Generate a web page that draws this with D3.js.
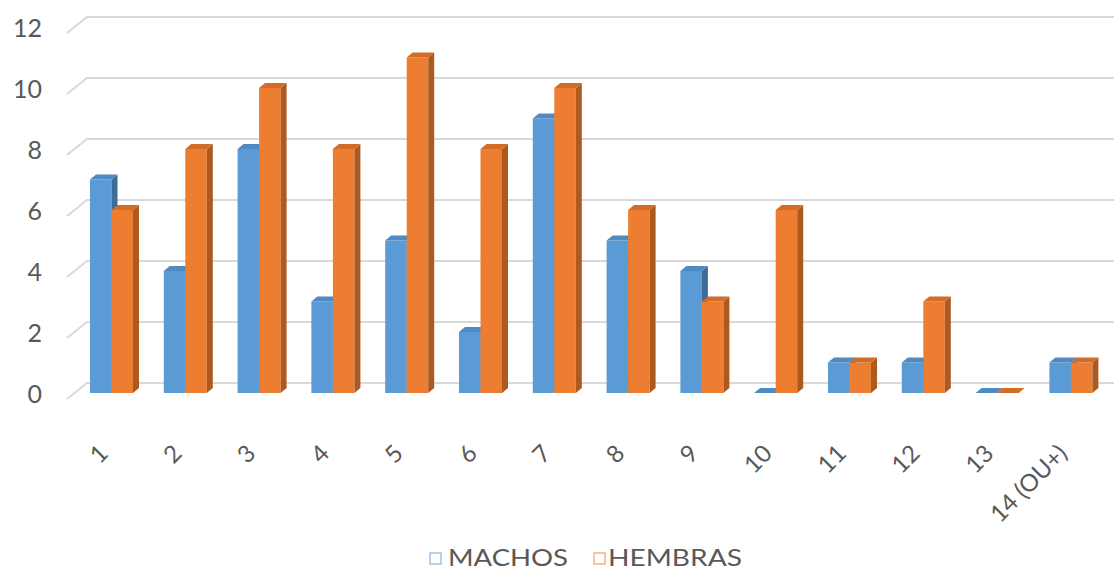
<!DOCTYPE html>
<html>
<head>
<meta charset="utf-8">
<script src="https://cdn.jsdelivr.net/npm/d3@7"></script>
<style>
  html, body { margin: 0; padding: 0; background: #ffffff; }
  svg { display: block; }
  text { font-family: Lato, "Open Sans", "DejaVu Sans", sans-serif; fill: #595959; }
</style>
</head>
<body>
<svg id="chart" width="1114" height="570"></svg>
<script>
// Age classes and counts per sex
const categories = ["1","2","3","4","5","6","7","8","9","10","11","12","13","14 (OU+)"];
const seriesNames = ["MACHOS", "HEMBRAS"];
const machos  = [7, 4, 8, 3, 5, 2, 9, 5, 4, 0, 1, 1, 0, 1];
const hembras = [6, 8, 10, 8, 11, 8, 10, 6, 3, 6, 1, 3, 0, 1];
const yTicks = [0, 2, 4, 6, 8, 10, 12];

const colors = {
  MACHOS:  { front: "#5b9bd5", side: "#3d6c98", top: "#4f8ac2", legend: "#9cc3e6" },
  HEMBRAS: { front: "#ed7d31", side: "#ad5a20", top: "#d26c27", legend: "#f4b183" }
};

const svg = d3.select("#chart");

// Front plane of the columns
const y = d3.scaleLinear().domain([0, 12]).range([393, 27]);
const x = d3.scaleBand().domain(categories).range([59.2, 1123.2])
  .paddingInner(0.417).paddingOuter(0.417);
const xs = d3.scaleBand().domain(seriesNames).range([0, x.bandwidth()]);

// Depth offsets: the back wall sits behind the column plane
const wallDy = -10;
const floorFrontX = 67, floorBackX = 87;
const colDx = 6, colDy = -5;           // column depth

// Back wall gridlines with the diagonal side stub
const grid = svg.append("g");
yTicks.forEach(v => {
  const yb = y(v) + wallDy;
  grid.append("path")
    .attr("d", `M${floorFrontX},${y(v) + 6}L${floorBackX},${yb}L1114,${yb}`)
    .attr("fill", "none")
    .attr("stroke", "#d9d9d9")
    .attr("stroke-width", 2);
});

// Value axis labels
svg.append("g").selectAll("text").data(yTicks).join("text")
  .attr("x", 42)
  .attr("y", d => y(d) + 4)
  .attr("text-anchor", "end")
  .attr("dominant-baseline", "middle")
  .attr("font-size", 25)
  .text(d => d);

// 3D columns
const data = categories.map((c, i) => ({ cat: c, values: [
  { key: "MACHOS", v: machos[i] },
  { key: "HEMBRAS", v: hembras[i] }
]}));

const bars = svg.append("g");
data.forEach(d => {
  const g = bars.append("g");
  d.values.forEach(s => {
    const x0 = x(d.cat) + xs(s.key);
    const w = xs.bandwidth();
    const yt = y(s.v), yb = y(0);
    const c = colors[s.key];
    if (s.v > 0) {
      g.append("rect")
        .attr("x", x0).attr("y", yt)
        .attr("width", w).attr("height", yb - yt)
        .attr("fill", c.front);
      g.append("path")
        .attr("d", `M${x0 + w},${yt}L${x0 + w + colDx},${yt + colDy}L${x0 + w + colDx},${yb + colDy}L${x0 + w},${yb}Z`)
        .attr("fill", c.side);
    }
    g.append("path")
      .attr("d", `M${x0},${yt}L${x0 + colDx},${yt + colDy}L${x0 + w + colDx},${yt + colDy}L${x0 + w},${yt}Z`)
      .attr("fill", c.top);
  });
});

// Category labels, rotated
svg.append("g").selectAll("text").data(categories).join("text")
  .attr("text-anchor", "end")
  .attr("font-size", 24)
  .attr("transform", d => `translate(${x(d) + x.bandwidth() / 2 - 2},${455}) rotate(-45)`)
  .text(d => d);

// Legend
const legend = svg.append("g");
const legendItems = [
  { key: "MACHOS", box: 430, text: 448, len: 120 },
  { key: "HEMBRAS", box: 594, text: 608, len: 134 }
];
legendItems.forEach(it => {
  legend.append("rect")
    .attr("x", it.box).attr("y", 553)
    .attr("width", 11).attr("height", 11)
    .attr("fill", "#ffffff")
    .attr("stroke", colors[it.key].legend)
    .attr("stroke-width", 1.5);
  legend.append("text")
    .attr("x", it.text).attr("y", 566)
    .attr("font-size", 24)
    .attr("textLength", it.len)
    .attr("lengthAdjust", "spacingAndGlyphs")
    .text(it.key);
});
</script>
</body>
</html>
